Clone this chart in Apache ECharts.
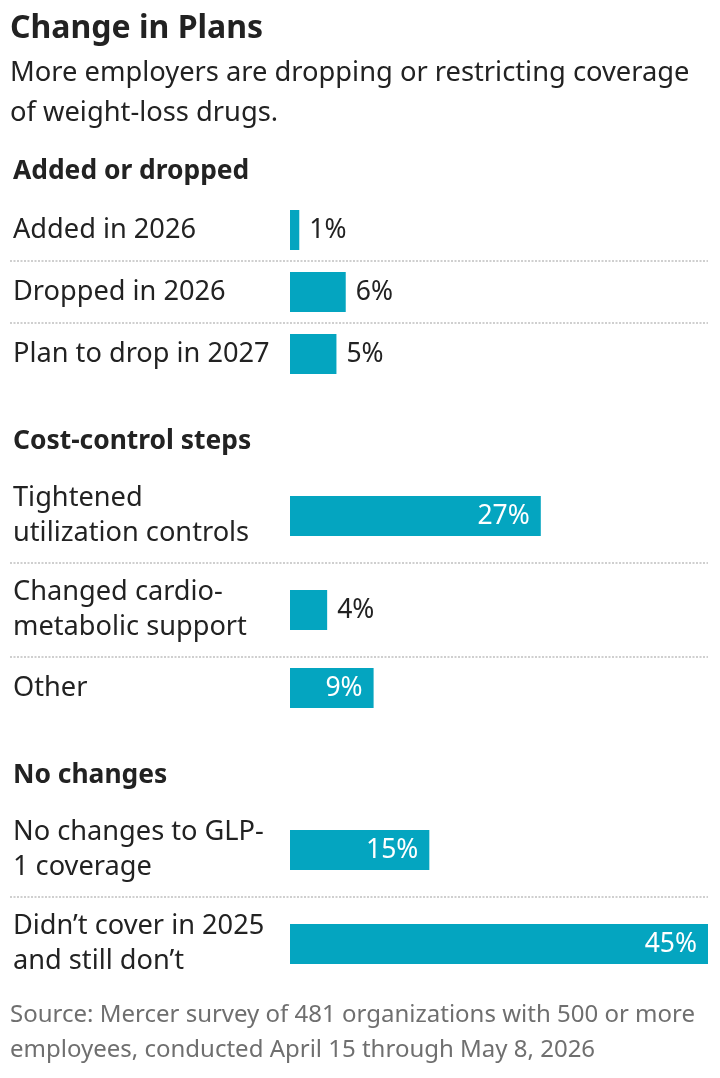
<!DOCTYPE html>
<html><head><meta charset="utf-8">
<script src="https://cdn.jsdelivr.net/npm/echarts@6/dist/echarts.min.js"></script>
<style>html,body{margin:0;padding:0;background:#fff}#c{width:720px;height:1078px}</style>
</head><body><div id="c"></div>
<script>
// ---- data ----
const groups = ["Added or dropped", "Cost-control steps", "No changes"];
const categories = [
  "Added in 2026", "Dropped in 2026", "Plan to drop in 2027",
  "Tightened\nutilization controls", "Changed cardio-\nmetabolic support", "Other",
  "No changes to GLP-\n1 coverage", "Didn\u2019t cover in 2025\nand still don\u2019t"
];
const values = [1, 6, 5, 27, 4, 9, 15, 45];
const titleText = "Change in Plans";
const subtitleText = "More employers are dropping or restricting coverage\nof weight-loss drugs.";
const sourceText = "Source: Mercer survey of 481 organizations with 500 or more\nemployees, conducted April 15 through May 8, 2026";

// ---- layout ----
const FONT = "'Noto Sans'";
const BAR_COLOR = "#04a5c0";
const TEXT = "#222";
const barTops = [210, 272, 334, 496, 590, 668, 830, 924];
const groupHeaderY = [171, 441, 775];
const sepY = [261, 323, 563, 657, 897];
const BAR_LEFT = 290, BAR_W = 418, BAR_H = 40, AX_MAX = 45;

const grids = [], xAxes = [], yAxes = [], series = [];
categories.forEach((cat, i) => {
  grids.push({ left: BAR_LEFT, width: BAR_W, top: barTops[i], height: BAR_H, containLabel: false });
  xAxes.push({ gridIndex: i, type: 'value', min: 0, max: AX_MAX, show: false });
  yAxes.push({
    gridIndex: i, type: 'category', data: [cat],
    axisLine: { show: false }, axisTick: { show: false }, splitLine: { show: false },
    axisLabel: { align: 'left', margin: BAR_LEFT - 13, color: TEXT, fontSize: 27.2, fontFamily: FONT, lineHeight: 35 }
  });
  const inside = values[i] >= 9;
  series.push({
    type: 'bar', xAxisIndex: i, yAxisIndex: i, barWidth: BAR_H,
    data: [values[i]], itemStyle: { color: BAR_COLOR }, silent: true, animation: false,
    label: {
      show: true, formatter: p => p.value + '%',
      position: inside ? 'insideRight' : 'right', distance: inside ? 11 : 10,
      color: inside ? '#fff' : TEXT, fontSize: 26.5, fontFamily: FONT
    }
  });
});

const graphic = [
  { type: 'text', x: 10, y: 29, style: { text: titleText, font: "bold 32px " + FONT, fill: TEXT, textVerticalAlign: 'middle' } },
  { type: 'text', x: 10, y: 53, style: { text: subtitleText, font: "27.3px " + FONT, fill: TEXT, lineHeight: 40 } },
  { type: 'text', x: 10, y: 998, style: { text: sourceText, font: "24px " + FONT, fill: '#6f6f6f', lineHeight: 35 } }
];
groups.forEach((g, k) => {
  graphic.push({ type: 'text', x: 13, y: groupHeaderY[k], style: { text: g, font: "bold 26.4px " + FONT, fill: TEXT, textVerticalAlign: 'middle' } });
});
sepY.forEach(y => {
  graphic.push({ type: 'line', shape: { x1: 10, y1: y, x2: 708, y2: y }, style: { stroke: '#cfcfcf', lineWidth: 2, lineDash: [2, 1.5] }, silent: true });
});

const chart = echarts.init(document.getElementById('c'));
chart.setOption({ animation: false, grid: grids, xAxis: xAxes, yAxis: yAxes, series, graphic });
</script></body></html>
